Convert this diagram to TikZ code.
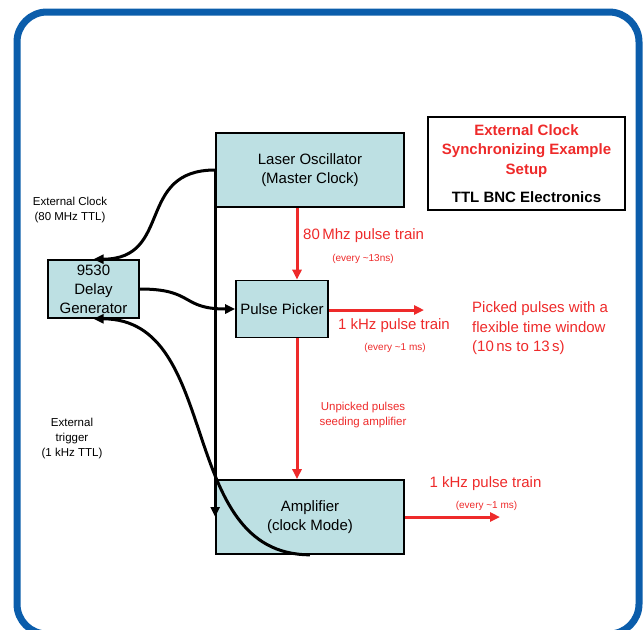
\documentclass[tikz,border=0pt]{standalone}
\usepackage{fontspec}
\setmainfont{Liberation Sans}
\usetikzlibrary{arrows.meta}
\definecolor{boxfill}{HTML}{BDE0E3}
\definecolor{sigred}{HTML}{EE2A2A}
\definecolor{framebl}{HTML}{0B5DAB}

\begin{document}
\begin{tikzpicture}[>={Triangle[length=10pt,width=9pt]},x=1pt,y=-1pt,
    unit/.style={draw=black,line width=1.6pt,fill=boxfill,align=center,inner sep=0pt,
                 font=\fontsize{15}{19}\selectfont},
    sig/.style={sigred,line width=3pt,->},
    wire/.style={black,line width=3pt,->},
    redlab/.style={text=sigred,inner sep=0pt,align=center},
    blklab/.style={inner sep=0pt,align=center},
    sigtext/.style={font=\fontsize{15}{19.5}\selectfont},
    notetext/.style={font=\fontsize{11.5}{15}\selectfont},
    tinytext/.style={font=\fontsize{10}{12}\selectfont}]
  %
  \useasboundingbox (0,0) rectangle (644,629);
  \clip (0,0) rectangle (644,629);
  %
  % Frame
  \draw[framebl,line width=7pt,rounded corners=30pt] (17,12) rectangle (639,634);
  %
  % Units
  \node[unit,minimum width=188pt,minimum height=74pt] (laser) at (310,170)
    {Laser Oscillator\\(Master Clock)};
  \node[unit,minimum width=91pt,minimum height=58pt] (delay) at (93.5,289)
    {9530\\Delay\\Generator};
  \node[unit,minimum width=92pt,minimum height=57pt] (picker) at (282,309)
    {Pulse Picker};
  \node[unit,minimum width=188pt,minimum height=74pt] (amp) at (310,517)
    {Amplifier\\(clock Mode)};
  \node[draw=black,line width=1.6pt,align=center,inner sep=0pt,
        font=\fontsize{15}{19.5}\selectfont\bfseries,
        minimum width=197pt,minimum height=93pt] (title) at (526.5,163.5)
    {\textcolor{sigred}{External Clock}\\
     \textcolor{sigred}{Synchronizing Example}\\
     \textcolor{sigred}{Setup}\\[8.5pt]
     TTL BNC Electronics};
  %
  % Optical path (red)
  \coordinate (beam) at (297,0);
  \coordinate (pickout) at (424,310);
  \coordinate (ampout) at (500,517);
  \draw[sig] (laser.south -| beam) -- (picker.north -| beam);
  \draw[sig] (picker.south -| beam) -- (amp.north -| beam);
  \draw[sig] (picker.east |- pickout) -- (pickout);
  \draw[sig] (amp.east) -- (ampout);
  %
  % Electronic connections (black)
  \draw[wire] (laser.west) -- (amp.west);
  \draw[wire] (laser.west) .. controls +(-80,0) and +(80,0) .. (delay.north);
  \draw[wire] (delay.east) .. controls +(55,0) and +(-55,0) .. (picker.west);
  \draw[wire] (amp.south) .. controls +(-135,0) and +(130,0) .. (delay.south);
  %
  % Annotations
  \node[redlab,sigtext,anchor=west] (mhz) at (303,236) {80\,Mhz pulse train};
  \node[redlab,tinytext] (every13) at (363,259) {(every \textasciitilde13ns)};
  \node[redlab,sigtext] (khz) at (394,326) {1 kHz pulse train};
  \node[redlab,tinytext] (every1) at (395,348) {(every \textasciitilde1 ms)};
  \node[redlab,sigtext,anchor=west,align=left] (picked) at (472,328.5)
    {Picked pulses with a\\flexible time window\\(10\,ns to 13\,s)};
  \node[redlab,notetext] (unpicked) at (363,415)
    {Unpicked pulses\\seeding amplifier};
  \node[redlab,sigtext] (khzout) at (485.5,484) {1 kHz pulse train};
  \node[redlab,tinytext] (everyout) at (486.5,506) {(every \textasciitilde1 ms)};
  \node[blklab,notetext] (extclk) at (70,210)
    {External Clock\\(80 MHz TTL)};
  \node[blklab,notetext] (exttrig) at (72,439)
    {External\\trigger\\(1 kHz TTL)};
  %
\end{tikzpicture}
\end{document}
